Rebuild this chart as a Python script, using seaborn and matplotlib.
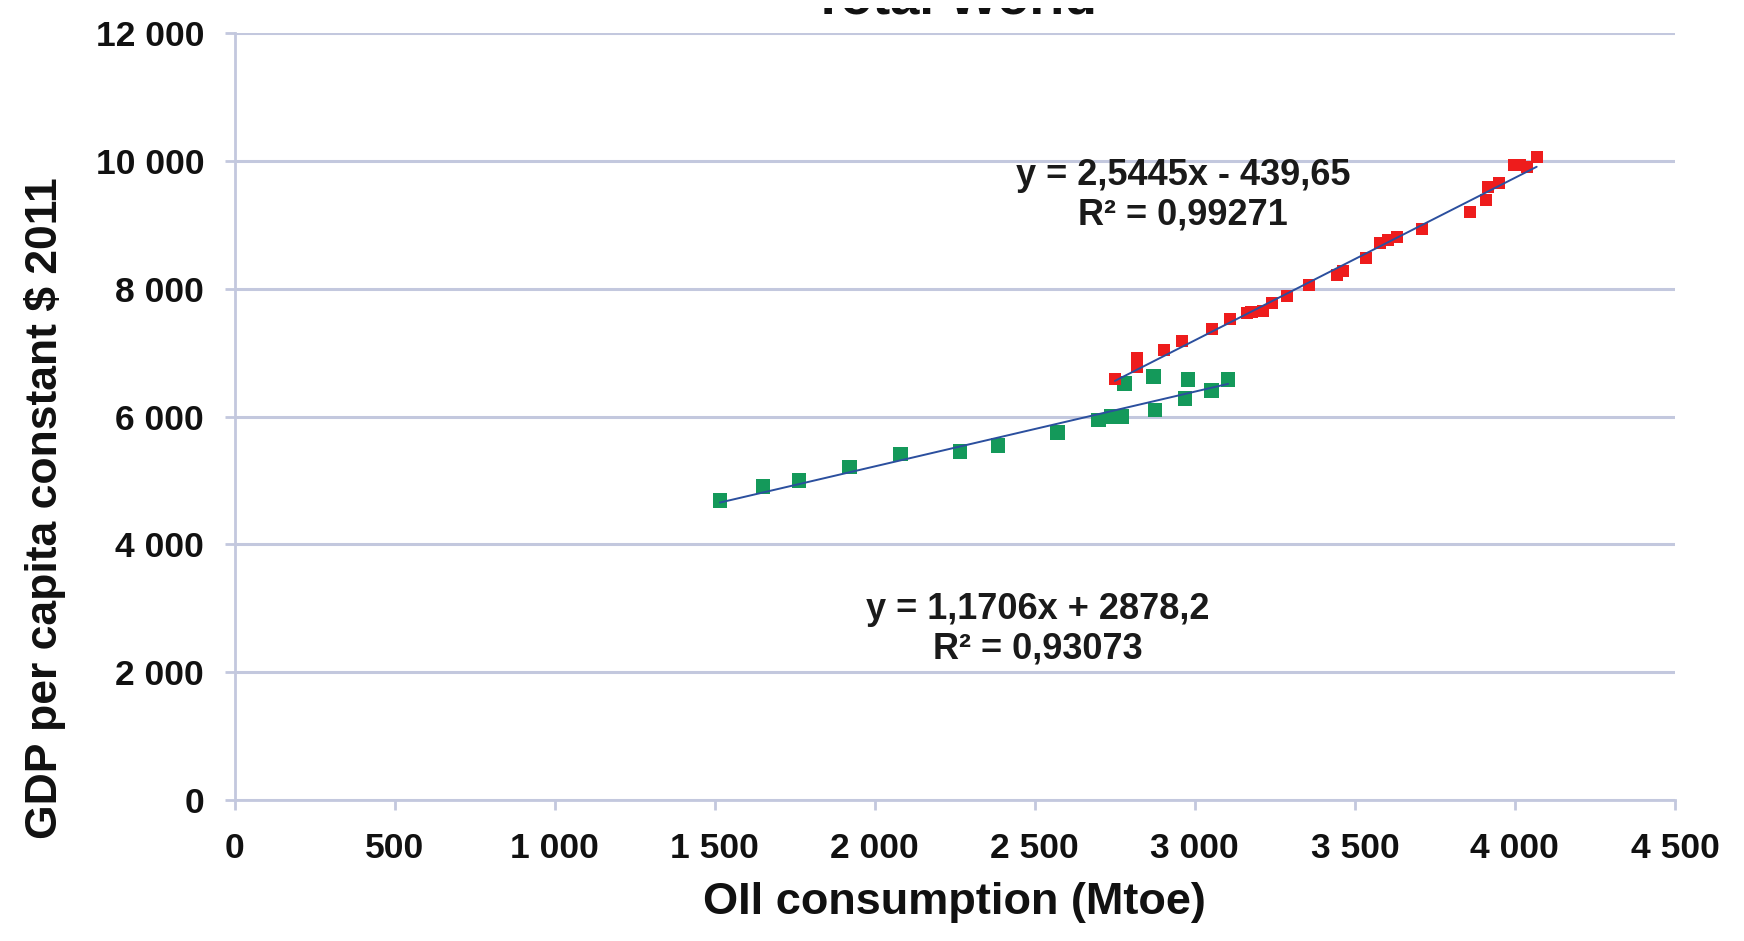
import numpy as np
import pandas as pd
import matplotlib
matplotlib.use("Agg")
import matplotlib.pyplot as plt
from matplotlib.ticker import FuncFormatter
from matplotlib.transforms import Bbox
import seaborn as sns

# data
green_x = [1516, 1651, 1763, 1920, 2081, 2266, 2385, 2570, 2698, 2740, 2771, 2781,
           2875, 2870, 2969, 2979, 3052, 3104]
green_y = [4689, 4902, 4996, 5210, 5414, 5456, 5550, 5754, 5946, 5998, 5998, 6521,
           6103, 6624, 6286, 6583, 6405, 6583]
red_x = [2750, 2818, 2820, 2903, 2961, 3054, 3110, 3162, 3177, 3214, 3240, 3287,
         3357, 3443, 3464, 3534, 3578, 3604, 3632, 3709, 3859, 3909, 3917, 3951,
         3997, 4016, 4037, 4068]
red_y = [6583, 6912, 6781, 7042, 7188, 7371, 7523, 7617, 7642, 7653, 7773, 7893,
         8060, 8217, 8284, 8478, 8723, 8765, 8817, 8932, 9208, 9391, 9590, 9653,
         9939, 9939, 9903, 10069]

# trend line coefficients as printed on the chart
green_fit = (1.1706, 2878.2)
red_fit = (2.5445, -439.65)
green_label = "y = 1,1706x + 2878,2\nR² = 0,93073"
red_label = "y = 2,5445x - 439,65\nR² = 0,99271"

x_ticks = list(range(0, 4501, 500))
y_ticks = list(range(0, 12001, 2000))

GREEN = "#14995A"
RED = "#EE1C1C"
TREND = "#2B4F9E"
GRID = "#C3C8DE"

sns.set_theme(style="white")
plt.rcParams["font.family"] = ["Liberation Sans", "DejaVu Sans"]
plt.rcParams["font.weight"] = "bold"

fig = plt.figure(figsize=(17.44, 9.41), dpi=100)
ax = fig.add_axes([0.1346, 0.1502, 0.8258, 0.8143])

green = pd.DataFrame({"x": green_x, "y": green_y})
red = pd.DataFrame({"x": red_x, "y": red_y})

def trend(df, coef):
    xs = np.array([df["x"].min(), df["x"].max()], dtype=float)
    return pd.DataFrame({"x": xs, "y": coef[0] * xs + coef[1]})

sns.scatterplot(data=green, x="x", y="y", marker="s", s=110, color=GREEN,
                edgecolor="none", ax=ax, zorder=3)
sns.scatterplot(data=red, x="x", y="y", marker="s", s=76, color=RED,
                edgecolor="none", ax=ax, zorder=3)
sns.lineplot(data=trend(green, green_fit), x="x", y="y", color=TREND, lw=1.4,
             ax=ax, zorder=4)
sns.lineplot(data=trend(red, red_fit), x="x", y="y", color=TREND, lw=1.4,
             ax=ax, zorder=4)

ax.text(2963, 9462, red_label, ha="center", va="center", fontsize=26,
        fontweight="bold", linespacing=1.15, color="#1a1a1a")
ax.text(2510, 2665, green_label, ha="center", va="center", fontsize=26,
        fontweight="bold", linespacing=1.15, color="#1a1a1a")

ax.set_xlim(0, 4500)
ax.set_ylim(0, 12000)
ax.set_xticks(x_ticks)
ax.set_yticks(y_ticks)
fmt = FuncFormatter(lambda v, p: f"{int(v):,}".replace(",", " "))
ax.xaxis.set_major_formatter(fmt)
ax.yaxis.set_major_formatter(fmt)

ax.grid(axis="y", color=GRID, lw=2.2)
ax.set_axisbelow(True)
for side in ["top", "right"]:
    ax.spines[side].set_visible(False)
for side in ["left", "bottom"]:
    ax.spines[side].set_color(GRID)
    ax.spines[side].set_linewidth(2.0)

ax.tick_params(axis="both", which="major", direction="out", length=7, width=2,
               color=GRID, labelsize=25.5, labelcolor="#111111")
ax.tick_params(axis="x", pad=16, bottom=True)
ax.tick_params(axis="y", pad=15, left=True)
for lab in ax.get_xticklabels() + ax.get_yticklabels():
    lab.set_fontweight("bold")

ax.set_xlabel("OIl consumption (Mtoe)", fontsize=32.5, fontweight="bold", color="#111111")
ax.set_ylabel("GDP per capita constant $ 2011", fontsize=32, fontweight="bold", color="#111111")
ax.xaxis.set_label_coords(0.5, -0.134)
ax.xaxis.label.set_va("center")
ax.yaxis.set_label_coords(-0.1315, 0.381)
ax.yaxis.label.set_va("center")

# title: in the reference only the bottom strip of it shows (page cropped)
title = fig.text(0.5475, 1 - 14 / 941, "Total World", ha="center", va="baseline",
                 fontsize=38, fontweight="bold", color="#111111")
title.set_clip_box(Bbox([[0, 941 - 15], [1744, 941 - 8]]))
title.set_clip_on(True)

fig.savefig("out.png", dpi=100, facecolor="white")
